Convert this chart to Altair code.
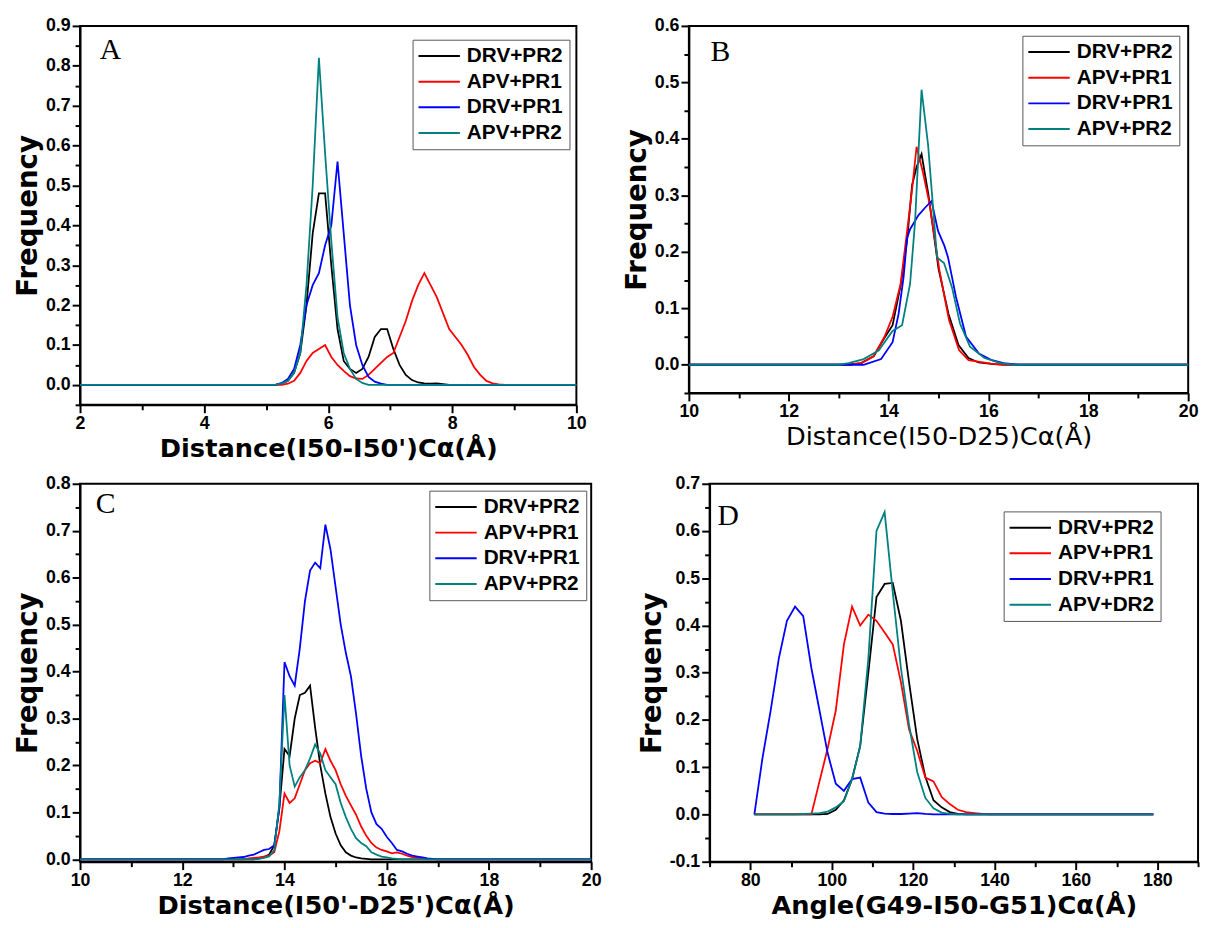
import altair as alt
import pandas as pd

NAMES_ABC = ["DRV+PR2", "APV+PR1", "DRV+PR1", "APV+PR2"]
NAMES_D = ["DRV+PR2", "APV+PR1", "DRV+PR1", "APV+DR2"]
COLORS = ["#000000", "#ff0000", "#0000ff", "#008080"]

# ---------------- Panel A : Distance(I50-I50') ----------------
A_DRV_PR2 = [(2.0, 0), (5.15, 0), (5.25, 0.003), (5.35, 0.01), (5.45, 0.03), (5.55, 0.08), (5.65, 0.2),
             (5.75, 0.38), (5.85, 0.48), (5.95, 0.48), (6.05, 0.3), (6.15, 0.14), (6.25, 0.06), (6.35, 0.04),
             (6.45, 0.03), (6.55, 0.04), (6.65, 0.07), (6.75, 0.12), (6.85, 0.14), (6.95, 0.14), (7.05, 0.09),
             (7.15, 0.05), (7.25, 0.025), (7.35, 0.012), (7.45, 0.006), (7.55, 0.004), (7.65, 0.003),
             (7.75, 0.004), (7.85, 0.002), (7.95, 0), (10.0, 0)]
A_APV_PR1 = [(2.0, 0), (5.25, 0), (5.35, 0.003), (5.45, 0.01), (5.55, 0.03), (5.65, 0.06), (5.75, 0.08),
             (5.85, 0.09), (5.95, 0.1), (6.05, 0.07), (6.15, 0.05), (6.25, 0.035), (6.35, 0.022), (6.45, 0.016),
             (6.55, 0.015), (6.65, 0.025), (6.75, 0.04), (6.85, 0.055), (6.95, 0.07), (7.05, 0.08), (7.15, 0.12),
             (7.25, 0.16), (7.35, 0.21), (7.45, 0.25), (7.55, 0.28), (7.65, 0.25), (7.75, 0.22), (7.85, 0.18),
             (7.95, 0.14), (8.05, 0.12), (8.15, 0.1), (8.25, 0.075), (8.35, 0.045), (8.45, 0.025), (8.55, 0.01),
             (8.65, 0.004), (8.75, 0.001), (8.85, 0), (10.0, 0)]
A_DRV_PR1 = [(2.0, 0), (5.15, 0), (5.25, 0.005), (5.35, 0.015), (5.45, 0.04), (5.55, 0.1), (5.65, 0.2),
             (5.75, 0.25), (5.85, 0.28), (5.95, 0.35), (6.05, 0.4), (6.15, 0.56), (6.25, 0.38), (6.35, 0.2),
             (6.45, 0.1), (6.55, 0.05), (6.65, 0.02), (6.75, 0.008), (6.85, 0.003), (6.95, 0), (10.0, 0)]
A_APV_PR2 = [(2.0, 0), (5.15, 0), (5.25, 0.004), (5.35, 0.01), (5.45, 0.03), (5.55, 0.08), (5.65, 0.25),
             (5.75, 0.5), (5.85, 0.82), (5.95, 0.58), (6.05, 0.36), (6.15, 0.17), (6.25, 0.08), (6.35, 0.04),
             (6.45, 0.015), (6.55, 0.005), (6.65, 0), (10.0, 0)]

# ---------------- Panel B : Distance(I50-D25) ----------------
B_DRV_PR2 = [(10, 0), (13.2, 0), (13.45, 0.003), (13.7, 0.015), (13.9, 0.045), (14.08, 0.07), (14.24, 0.14),
             (14.37, 0.22), (14.47, 0.318), (14.56, 0.35), (14.66, 0.373), (14.8, 0.3), (15.0, 0.17),
             (15.2, 0.09), (15.4, 0.035), (15.6, 0.012), (15.8, 0.004), (16.1, 0.001), (16.4, 0), (20, 0)]
B_APV_PR1 = [(10, 0), (13.2, 0), (13.45, 0.003), (13.7, 0.015), (13.92, 0.05), (14.08, 0.085), (14.24, 0.143),
             (14.37, 0.236), (14.47, 0.31), (14.56, 0.386), (14.69, 0.34), (14.82, 0.285), (15.02, 0.166),
             (15.21, 0.079), (15.41, 0.026), (15.6, 0.008), (16.05, 0.002), (16.3, 0), (20, 0)]
B_DRV_PR1 = [(10, 0), (13.5, 0), (13.85, 0.01), (14.08, 0.04), (14.2, 0.09), (14.3, 0.155), (14.37, 0.224),
             (14.43, 0.24), (14.6, 0.265), (14.73, 0.278), (14.86, 0.29), (14.99, 0.237), (15.12, 0.21),
             (15.19, 0.19), (15.35, 0.12), (15.55, 0.05), (15.81, 0.02), (16.07, 0.008), (16.3, 0.003),
             (16.6, 0), (20, 0)]
B_APV_PR2 = [(10, 0), (13.0, 0), (13.2, 0.003), (13.5, 0.01), (13.8, 0.025), (14.08, 0.06), (14.27, 0.07),
             (14.43, 0.143), (14.53, 0.253), (14.66, 0.487), (14.79, 0.39), (14.97, 0.19), (15.11, 0.18),
             (15.27, 0.137), (15.43, 0.073), (15.63, 0.032), (15.92, 0.012), (16.24, 0.003), (16.5, 0), (20, 0)]

# ---------------- Panel C : Distance(I50'-D25') ----------------
C_DRV_PR2 = [(10, 0), (13.4, 0), (13.5, 0.002), (13.6, 0.005), (13.7, 0.01), (13.8, 0.03), (13.9, 0.11),
             (14.0, 0.235), (14.1, 0.22), (14.2, 0.3), (14.3, 0.35), (14.4, 0.355), (14.5, 0.37), (14.6, 0.28),
             (14.7, 0.2), (14.8, 0.14), (14.9, 0.09), (15.0, 0.055), (15.1, 0.03), (15.2, 0.015), (15.3, 0.008),
             (15.4, 0.004), (15.5, 0.002), (15.6, 0.001), (15.7, 0), (20, 0)]
C_APV_PR1 = [(10, 0), (13.2, 0), (13.3, 0.002), (13.5, 0.004), (13.6, 0.006), (13.7, 0.008), (13.8, 0.015),
             (13.9, 0.06), (14.0, 0.14), (14.1, 0.12), (14.2, 0.13), (14.3, 0.16), (14.4, 0.19), (14.5, 0.205),
             (14.6, 0.21), (14.7, 0.205), (14.8, 0.235), (14.9, 0.21), (15.0, 0.19), (15.1, 0.16), (15.2, 0.135),
             (15.3, 0.115), (15.4, 0.095), (15.5, 0.07), (15.6, 0.05), (15.7, 0.035), (15.8, 0.025), (15.9, 0.02),
             (16.0, 0.017), (16.1, 0.013), (16.2, 0.015), (16.3, 0.012), (16.4, 0.008), (16.5, 0.005),
             (16.6, 0.003), (16.7, 0.001), (16.8, 0), (20, 0)]
C_DRV_PR1 = [(10, 0), (12.8, 0), (12.9, 0.002), (13.0, 0.003), (13.1, 0.004), (13.2, 0.005), (13.3, 0.008),
             (13.4, 0.01), (13.5, 0.015), (13.6, 0.02), (13.7, 0.022), (13.8, 0.03), (13.9, 0.11), (14.0, 0.42),
             (14.1, 0.39), (14.2, 0.37), (14.3, 0.45), (14.4, 0.55), (14.5, 0.615), (14.6, 0.632), (14.7, 0.62),
             (14.8, 0.713), (14.9, 0.66), (15.0, 0.58), (15.1, 0.5), (15.2, 0.44), (15.3, 0.39), (15.4, 0.31),
             (15.5, 0.22), (15.6, 0.15), (15.7, 0.1), (15.8, 0.075), (15.9, 0.065), (16.0, 0.048), (16.1, 0.035),
             (16.2, 0.02), (16.3, 0.017), (16.4, 0.012), (16.5, 0.008), (16.6, 0.006), (16.7, 0.004),
             (16.8, 0.002), (16.9, 0.001), (17.0, 0), (20, 0)]
C_APV_PR2 = [(10, 0), (13.4, 0), (13.5, 0.001), (13.6, 0.003), (13.7, 0.006), (13.8, 0.02), (13.9, 0.12),
             (14.0, 0.35), (14.1, 0.2), (14.2, 0.155), (14.3, 0.175), (14.4, 0.19), (14.5, 0.215), (14.6, 0.245),
             (14.7, 0.225), (14.8, 0.19), (14.9, 0.175), (15.0, 0.16), (15.1, 0.12), (15.2, 0.09), (15.3, 0.065),
             (15.4, 0.045), (15.5, 0.035), (15.6, 0.028), (15.7, 0.015), (15.8, 0.01), (15.9, 0.006),
             (16.0, 0.004), (16.1, 0.002), (16.2, 0.001), (16.3, 0), (20, 0)]

# ---------------- Panel D : Angle(G49-I50-G51) ----------------
D_DRV_PR2 = [(81, 0), (97, 0), (99, 0.001), (101, 0.01), (103, 0.03), (105, 0.075), (107, 0.145), (109, 0.3),
             (111, 0.46), (113, 0.488), (115, 0.49), (117, 0.41), (119, 0.28), (121, 0.16), (123, 0.08),
             (125, 0.03), (127, 0.015), (129, 0.005), (131, 0.001), (133, 0), (179, 0)]
D_APV_PR1 = [(81, 0), (95, 0), (97, 0.07), (99, 0.14), (101, 0.22), (103, 0.36), (105, 0.44), (107, 0.4),
             (109, 0.423), (111, 0.41), (113, 0.385), (115, 0.36), (117, 0.28), (119, 0.18), (121, 0.135),
             (123, 0.078), (125, 0.07), (127, 0.037), (129, 0.022), (131, 0.01), (133, 0.005), (135, 0.003),
             (137, 0.001), (139, 0), (179, 0)]
D_DRV_PR1 = [(81, 0), (83, 0.12), (85, 0.22), (87, 0.33), (89, 0.41), (91, 0.44), (93, 0.42), (95, 0.31),
             (97, 0.22), (99, 0.13), (101, 0.065), (103, 0.05), (105, 0.075), (107, 0.078), (109, 0.025),
             (111, 0.005), (113, 0.002), (115, 0.001), (117, 0.001), (119, 0.002), (121, 0.003), (123, 0.001),
             (125, 0), (179, 0)]
D_APV_DR2 = [(81, 0), (91, 0), (93, 0.001), (95, 0.002), (97, 0.003), (99, 0.006), (101, 0.015), (103, 0.028),
             (105, 0.075), (107, 0.145), (109, 0.33), (111, 0.6), (113, 0.64), (115, 0.47), (117, 0.31),
             (119, 0.19), (121, 0.09), (123, 0.035), (125, 0.013), (127, 0.004), (129, 0.001), (131, 0), (179, 0)]

# ---------------- tick values ----------------
A_X_MAJOR = [2, 4, 6, 8, 10]
A_X_MINOR = [3, 5, 7, 9]
A_Y_MAJOR = [0.0, 0.1, 0.2, 0.3, 0.4, 0.5, 0.6, 0.7, 0.8, 0.9]
A_Y_MINOR = [-0.05, 0.05, 0.15, 0.25, 0.35, 0.45, 0.55, 0.65, 0.75, 0.85]
B_X_MAJOR = [10, 12, 14, 16, 18, 20]
B_X_MINOR = [11, 13, 15, 17, 19]
B_Y_MAJOR = [0.0, 0.1, 0.2, 0.3, 0.4, 0.5, 0.6]
B_Y_MINOR = [-0.05, 0.05, 0.15, 0.25, 0.35, 0.45, 0.55]
C_X_MAJOR = [10, 12, 14, 16, 18, 20]
C_X_MINOR = [11, 13, 15, 17, 19]
C_Y_MAJOR = [0.0, 0.1, 0.2, 0.3, 0.4, 0.5, 0.6, 0.7, 0.8]
C_Y_MINOR = [0.05, 0.15, 0.25, 0.35, 0.45, 0.55, 0.65, 0.75]
D_X_MAJOR = [80, 100, 120, 140, 160, 180]
D_X_MINOR = [70, 90, 110, 130, 150, 170, 190]
D_Y_MAJOR = [-0.1, 0.0, 0.1, 0.2, 0.3, 0.4, 0.5, 0.6, 0.7]
D_Y_MINOR = [-0.05, 0.05, 0.15, 0.25, 0.35, 0.45, 0.55, 0.65]

LABEL_FONT = "Liberation Sans"
TITLE_FONT = "DejaVu Sans"
YLAB = "replace(format(datum.value, '.1f'), '\u2212', '-')"


def panel(series, names, xdom, ydom, xmaj, xmin, ymaj, ymin, xtitle, letter,
          w, h, leg_x, leg_y, let_x, let_y, title_weight="bold"):
    rows = []
    for name, pts in zip(names, series):
        for x, f in pts:
            rows.append({"x": x, "f": f, "s": name})
    df = pd.DataFrame(rows)
    xs = alt.Scale(domain=xdom, nice=False, zero=False)
    ys = alt.Scale(domain=ydom, nice=False, zero=False)
    main = alt.Chart(df).mark_line(strokeWidth=1.8).encode(
        x=alt.X("x:Q", scale=xs,
                axis=alt.Axis(orient="bottom", values=xmaj, format="d", title=xtitle,
                              tickSize=8, titleFontWeight=title_weight)),
        y=alt.Y("f:Q", scale=ys,
                axis=alt.Axis(orient="left", values=ymaj, labelExpr=YLAB, title="Frequency", tickSize=8)),
        color=alt.Color("s:N", sort=names, scale=alt.Scale(domain=names, range=COLORS),
                        legend=alt.Legend(orient="none", legendX=leg_x, legendY=leg_y, title=None,
                                          symbolType="M-1.235,0H3.7", symbolSize=289,
                                          symbolStrokeWidth=2, labelOffset=28, labelFontSize=21,
                                          labelFont=LABEL_FONT, labelFontWeight="bold",
                                          labelColor="black", padding=6, rowPadding=4,
                                          strokeColor="#555555", fillColor="white")),
    )
    minor = alt.Chart(df).mark_point(opacity=0).encode(
        x=alt.X("x:Q", scale=xs,
                axis=alt.Axis(orient="bottom", values=xmin, labels=False, tickSize=5,
                              domain=False, title=None)),
        y=alt.Y("f:Q", scale=ys,
                axis=alt.Axis(orient="left", values=ymin, labels=False, tickSize=5,
                              domain=False, title=None)),
    )
    lt = alt.Chart(pd.DataFrame({"t": [letter]})).mark_text(
        font="Liberation Serif", fontSize=30, align="left", baseline="top", color="black"
    ).encode(text="t:N", x=alt.value(let_x), y=alt.value(let_y))
    return alt.layer(minor, main, lt).resolve_axis(x="independent", y="independent").properties(
        width=w, height=h)


pA = panel([A_DRV_PR2, A_APV_PR1, A_DRV_PR1, A_APV_PR2], NAMES_ABC, [2, 10], [-0.05, 0.9],
           A_X_MAJOR, A_X_MINOR, A_Y_MAJOR, A_Y_MINOR, "Distance(I50-I50')C\u03b1(\u00c5)", "A",
           503, 384, 337, 14, 20, 10)
pB = panel([B_DRV_PR2, B_APV_PR1, B_DRV_PR1, B_APV_PR2], NAMES_ABC, [10, 20], [-0.05, 0.6],
           B_X_MAJOR, B_X_MINOR, B_Y_MAJOR, B_Y_MINOR, "Distance(I50-D25)C\u03b1(\u00c5)", "B",
           506, 372, 338, 10, 22, 12, title_weight="normal")
pC = panel([C_DRV_PR2, C_APV_PR1, C_DRV_PR1, C_APV_PR2], NAMES_ABC, [10, 20], [-0.005, 0.8],
           C_X_MAJOR, C_X_MINOR, C_Y_MAJOR, C_Y_MINOR, "Distance(I50'-D25')C\u03b1(\u00c5)", "C",
           518, 383, 354, 7, 16, 6)
pD = panel([D_DRV_PR2, D_APV_PR1, D_DRV_PR1, D_APV_DR2], NAMES_D, [70, 190], [-0.1, 0.7],
           D_X_MAJOR, D_X_MINOR, D_Y_MAJOR, D_Y_MINOR, "Angle(G49-I50-G51)C\u03b1(\u00c5)", "D",
           495, 383, 298, 28, 8, 18)

row1 = alt.hconcat(pA, pB, spacing=34).resolve_scale(color="independent")
row2 = alt.hconcat(pC, pD, spacing=34).resolve_scale(color="independent")
chart = alt.vconcat(row1, row2, spacing=12).resolve_scale(color="independent").properties(
    padding={"left": 5, "top": 2, "right": 2, "bottom": 0}
).configure_view(stroke="black", strokeWidth=2).configure_axis(
    domainColor="black", domainWidth=2, tickColor="black", tickWidth=2, grid=False,
    labelFont=LABEL_FONT, labelFontSize=18, labelFontWeight="bold", labelColor="black",
    labelPadding=2, labelFlush=False,
    titleFont=TITLE_FONT, titleFontSize=28, titleColor="black", titlePadding=3,
).configure_axisX(titleFontSize=26)

chart.save("out.html", embed_options={"renderer": "svg", "actions": False})
